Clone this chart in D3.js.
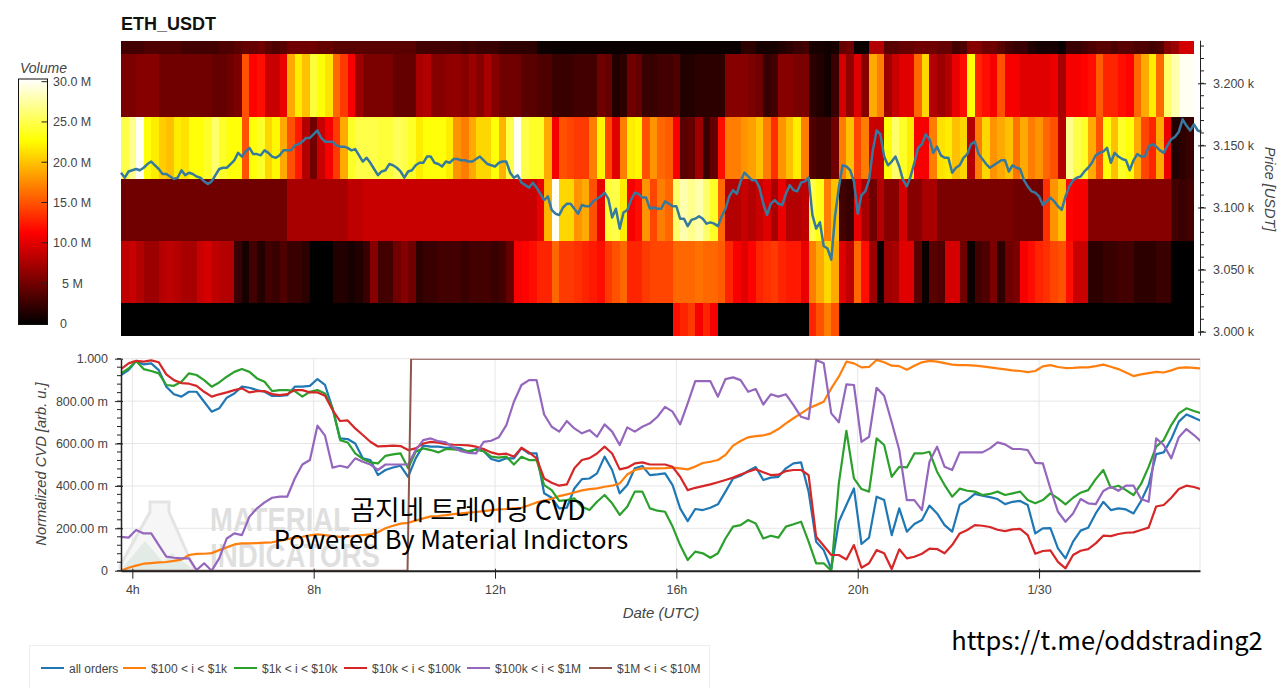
<!DOCTYPE html>
<html>
<head>
<meta charset="utf-8">
<title>ETH_USDT</title>
<script src="https://d3js.org/d3.v7.min.js"></script>
<style>
  body { margin: 0; background: #fff; }
  svg { display: block; }
  text { font-family: "Liberation Sans", Arial, sans-serif; }
  .tick text { fill: #444; font-size: 12.5px; font-family: "Liberation Sans", Arial, sans-serif; }
</style>
</head>
<body>
<svg id="chart" width="1280" height="688"></svg>
<script>
// Volumen por fila de precio (millones), una columna cada 10 minutos desde las 3:45
const vol3228 = [
  3,3,3,3.5,3.5,3.5,3.5,3.5,3,3,
  3,3,3,3.5,3.5,4,4.5,4.5,5,4,
  3.5,4,5,5,5,5,4.5,4.5,4,4,
  4,4,4,4,4,4,4,4,4,3,
  3,3,3,3,3,2.5,3,2.5,2.5,2.5,
  2,2,2,2,2,.6,.6,.5,.5,.5,
  .5,.5,.5,.5,.5,.5,.5,.5,.5,.5,
  .5,.5,.5,.5,.5,.5,.5,.5,.5,.5,
  .5,.5,2,2,1,1,1,1.5,2,2.5,
  3,1,1,.7,1,4.5,5,.5,.5,8,
  8,4,4,4.5,4.5,5,5,5,4.5,4.5,
  3,3.5,6,6,5,5,4,3,2.5,2.5,
  1.5,1,1,1,.5,2.5,2.5,3,3.5,4,
  4,3.5,4,4,3.5,3.5,3,3.5,6,7,9.5,9.5];
const vol3198 = [
  5.5,5.5,6,6,6,5,5,5,5,5,
  5,5,4.5,4.5,5,5.5,15,11.5,12,9,
  9,10.5,19,22,20,24.5,23,21.5,16,14,
  11,7,5.5,5.5,5.5,5.5,4.5,4.5,4.5,7.5,
  8,6,6,6.5,6.5,6,7,6,7.5,6,
  5,5,5,4,4,3.5,3.5,2.5,2.5,2.5,
  3,3,3,5,4.5,1.5,2,5,4.5,2.5,
  2.5,3,3,3.5,1.5,1.5,2,2,2,2,
  6,6,6,5.5,5,2.5,3,6,6,5.5,
  5.5,2,1.5,.8,2.5,9.5,6.5,10,6,19,
  17,7,9,10,10,16,21,8,7,8,
  10.5,12,23,13,12,11,15,11,11,10,
  10,10,10,10.5,7.5,11,11,11.5,12,15.5,
  13,13,12,11.5,16,19,22,16,26,28,30,30];
const vol3148 = [
  25,27,30,23,22,20.5,20,22,21.5,23,
  23,24,26,24,23,23,15,23,24,21,
  22.5,19,15,12.5,8,5,9,11,14,19,
  24,25,25,25,24.5,24.5,25.5,25,24,22,
  23,23,23,22,18,17,19,21,21,23,
  19.5,25,30,25,24,24,19,11,15,14.5,
  14,14,17,22.5,14.5,10,17,22,22.5,15,
  18,16,15.5,11,4,4.5,7,2.5,4.5,12,
  17,17,18,18.5,20,17,13.5,18,20,22,
  17,3.5,3,3,5,17,20,14.5,17,9,
  9,23,26,24,22,11,11,17,21.5,22,
  20,21,8,17,21,18,19,20,16.5,19,
  17,18,16,15,8,27,25,24,19,15,
  23,20,24,23,19,14.5,13,19,10.5,1.5,2,2.5];
const vol3098 = [
  5,5,5,5,5,5,5,5,5,5,
  5,5,5,5,5,5,5,5,5,5,
  5,5,7.5,7.5,7.5,7.5,7.5,7.5,7.5,7.5,
  8.5,8.5,9,9,9,9,9,9,9,9,
  9,9,9,9,9,9,9,9,9,9,
  9,9,9,9,9,10.5,19.5,30,21,21,
  18,19,15,10.5,24.5,25,22,11,12,18,
  14.5,17,16,26,28,27,28,26,24,16,
  8,8,9,8,9,10,7.5,10.5,8,8,
  8.5,25,23.5,17,20,3,2.5,10.5,7.5,5,
  8,6,6,9.5,6,6,7.5,7.5,5.5,5.5,
  5.5,5.5,5.5,5.5,5.5,5.5,5.5,5.5,5,5,
  5,5,13.5,18,20,11.5,11,11,6,6,
  6,6,6,6,6,6,6,6,6,3,2.5,3];
const vol3048 = [
  8.5,9,8,7,7,8,8.5,8,7.5,7.5,
  9,9.5,8.5,8,8,2.5,1,3,1.5,3,
  2.5,3.5,2.5,2.5,2,0,0,0,1.5,1.5,
  1,1.5,2.5,6,3,3,5,6,5,2,
  2.5,2.5,3,3,3,2.5,3,3,3,2.5,
  3,4.5,11,11.5,12,13,13,16,14,14,
  13.5,13,12.5,12,14,15,16,13,13,14,
  14.5,14.5,14.5,16,16,16,16.5,16,16,15.5,
  13,11,10,11.5,13,13.5,14,13,12.5,12.5,
  10.5,17,19,21,19,10,8.5,16,12,7,
  .3,7,7.5,10,10,4,.5,4,3.5,9.5,
  9.5,5,.5,3,3.5,5.5,2,5,5.5,11,
  12,13,13.5,14.5,15,12,9,9,2,2,
  2.5,2.5,3,3,2,2,2,2.5,2.5,0,0,0];
const vol3010 = [
  0,0,0,0,0,0,0,0,0,0,
  0,0,0,0,0,0,0,0,0,0,
  0,0,0,0,0,0,0,0,0,0,
  0,0,0,0,0,0,0,0,0,0,
  0,0,0,0,0,0,0,0,0,0,
  0,0,0,0,0,0,0,0,0,0,
  0,0,0,0,0,0,0,0,0,0,
  0,0,0,12,13,14,11,13,11,0,
  0,0,0,0,0,0,0,0,0,0,
  0,13,15,17,15,0,0,0,0,0,
  0,0,0,0,0,0,0,0,0,0,
  0,0,0,0,0,0,0,0,0,0,
  0,0,0,0,0,0,0,0,0,0,
  0,0,0,0,0,0,0,0,0,0,0,0];

const volumeRows = [vol3228, vol3198, vol3148, vol3098, vol3048, vol3010];
const priceEdges = [3234.3, 3223.2, 3173, 3123, 3073, 3023, 2996.8];

// Precio, un punto cada 5 minutos
const priceValues = [
  3128,3124,3129,3130,3131,3130,3132,3135,3137,3134,
  3131,3127,3127,3125,3123,3124,3130,3126,3128,3127,
  3125,3124,3121,3119,3121,3126,3131,3132,3132,3135,
  3138,3144,3141,3145,3148,3143,3143,3142,3146,3144,
  3141,3140,3142,3146,3146,3146,3150,3151,3153,3156,
  3156,3159,3162,3156,3153,3153,3153,3150,3149,3149,
  3148,3146,3147,3142,3137,3140,3136,3131,3126,3129,
  3130,3135,3134,3132,3129,3124,3129,3130,3134,3136,
  3136,3141,3141,3136,3135,3133,3137,3136,3139,3139,
  3138,3138,3137,3137,3139,3141,3138,3135,3134,3133,
  3136,3137,3137,3128,3124,3126,3120,3118,3116,3120,
  3116,3111,3106,3109,3098,3095,3094,3100,3103,3103,
  3099,3095,3102,3101,3101,3105,3107,3109,3112,3107,
  3092,3099,3083,3096,3098,3106,3112,3111,3108,3108,
  3099,3100,3099,3099,3105,3103,3101,3101,3091,3091,
  3085,3090,3091,3093,3091,3087,3088,3087,3085,3093,
  3099,3109,3114,3111,3121,3128,3125,3122,3122,3116,
  3103,3094,3103,3106,3103,3102,3111,3118,3114,3113,
  3120,3121,3124,3094,3083,3088,3069,3067,3058,3093,
  3116,3134,3133,3130,3121,3095,3110,3113,3122,3146,
  3162,3159,3141,3134,3137,3141,3133,3122,3117,3125,
  3136,3148,3151,3159,3155,3144,3149,3142,3140,3140,
  3128,3132,3134,3140,3143,3151,3153,3143,3139,3135,
  3132,3134,3136,3138,3138,3129,3134,3132,3131,3122,
  3117,3113,3112,3109,3102,3105,3108,3105,3101,3098,
  3109,3117,3122,3124,3125,3129,3132,3136,3142,3144,
  3145,3148,3136,3144,3141,3139,3138,3130,3138,3143,
  3141,3141,3149,3151,3149,3146,3144,3150,3155,3157,
  3161,3171,3166,3162,3167,3162,3161];

// CVD normalizado (en milésimas), un punto cada 10 minutos
const cvdAll = [
  923,946,989,973,978,946,868,832,821,844,
  844,797,750,766,816,836,868,863,852,844,
  824,825,828,868,868,872,904,876,766,624,
  621,600,530,522,451,475,487,495,443,530,
  590,585,585,580,582,577,558,574,564,527,
  517,530,530,577,553,553,365,344,294,297,
  388,432,435,459,538,475,365,404,483,494,
  451,454,459,404,294,234,291,286,297,313,
  373,435,448,470,489,428,439,443,483,506,
  511,373,137,97,8,231,310,388,126,156,
  349,333,168,294,184,220,239,307,270,215,
  184,311,333,362,354,347,338,314,325,329,
  310,176,200,201,105,58,137,189,203,270,
  325,286,294,289,270,329,404,550,558,621,
  703,737,722,706];
const cvd100to1k = [
  0,14,24,33,36,39,41,46,52,74,
  79,80,83,97,110,124,129,129,130,132,
  134,141,149,156,160,167,171,168,163,160,
  160,165,168,171,181,200,212,222,226,236,
  247,256,258,262,267,270,274,277,281,286,
  289,291,294,297,309,322,331,339,352,360,
  369,379,385,388,396,401,412,454,475,483,
  483,483,484,486,483,478,491,508,514,522,
  546,590,612,629,635,638,648,668,695,719,
  742,766,781,797,860,915,986,978,959,961,
  994,983,967,965,948,967,983,990,986,979,
  972,970,970,967,964,959,954,950,945,942,
  937,942,964,970,961,956,957,959,959,965,
  972,962,951,935,918,926,932,938,935,945,
  957,959,957,954];
const cvd1kto10k = [
  931,954,989,951,942,931,876,872,891,931,
  923,899,868,888,915,938,951,938,907,891,
  847,852,852,847,821,844,852,836,766,616,
  605,553,527,511,506,542,549,553,483,561,
  577,569,558,574,572,569,564,571,564,538,
  533,538,501,538,522,522,404,380,329,333,
  341,302,286,325,357,318,263,302,373,373,
  294,283,278,208,121,50,90,82,61,82,
  152,208,215,239,223,152,165,156,208,219,
  231,137,35,35,0,412,660,435,385,373,
  624,593,443,490,487,553,553,561,467,404,
  349,387,377,373,357,362,373,357,365,373,
  333,318,333,365,341,313,344,368,380,432,
  475,391,401,380,357,409,490,585,616,687,
  742,766,753,742];
const cvd10kto100k = [
  951,978,990,986,992,983,926,899,885,882,
  872,844,821,832,841,852,860,841,847,847,
  833,828,833,852,852,841,841,825,758,706,
  709,671,640,608,586,588,590,588,569,577,
  600,608,604,597,594,593,591,585,574,558,
  549,552,538,580,558,530,435,415,401,407,
  483,522,531,553,585,553,478,486,506,511,
  501,501,501,490,443,380,391,399,407,417,
  428,439,454,467,479,464,451,453,470,475,
  475,451,160,118,74,74,53,121,14,35,
  97,82,8,101,58,66,80,104,102,82,
  121,176,192,215,212,206,193,187,195,197,
  168,80,93,96,42,11,74,94,102,129,
  165,163,173,179,181,192,203,303,310,344,
  385,401,395,384];
const cvd100kto1m = [
  160,156,192,176,176,121,66,61,58,58,
  3,35,0,58,152,176,168,255,294,322,
  344,349,349,435,501,522,684,637,486,495,
  486,530,514,501,475,501,501,501,501,569,
  616,624,611,605,580,564,556,553,608,613,
  629,687,797,876,899,899,737,679,656,706,
  671,648,663,632,690,656,593,676,656,679,
  695,726,773,750,690,789,894,894,894,821,
  904,912,899,844,857,784,832,821,832,781,
  726,715,994,978,742,700,879,876,608,632,
  863,825,700,569,333,333,286,514,585,490,
  475,558,558,558,558,577,605,596,574,574,
  569,509,506,388,278,231,270,338,318,314,
  376,396,377,401,401,338,325,624,593,530,
  630,668,640,608];
// Esta serie solo salta una vez, asi que lleva sus propias horas
const cvd1mto10mHours = [3.75, 10.07, 10.15, 27.55];
const cvd1mto10m = [0, 0, 1000, 1000];

const seriesNames = ["all orders", "$100 < i < $1k", "$1k < i < $10k", "$10k < i < $100k", "$100k < i < $1M", "$1M < i < $10M"];
const seriesColors = ["#1f77b4", "#ff7f0e", "#2ca02c", "#d62728", "#9467bd", "#8c564b"];
const legendLineX = [41, 123, 234, 344, 467, 589];

const priceTicks = [3000, 3050, 3100, 3150, 3200];
const priceMinorTicks = [3000,3010,3020,3030,3040,3050,3060,3070,3080,3090,3100,3110,3120,3130,3140,3150,3160,3170,3180,3190,3200,3210,3220,3230];
const cvdTicks = [0, 200, 400, 600, 800, 1000];
const cvdTickLabels = ["0", "200.00 m", "400.00 m", "600.00 m", "800.00 m", "1.000"];
const cvdMinorTicks = [0,40,80,120,160,200,240,280,320,360,400,440,480,520,560,600,640,680,720,760,800,840,880,920,960,1000];
const hourTicks = [4, 8, 12, 16, 20, 24];
const hourTickLabels = ["4h", "8h", "12h", "16h", "20h", "1/30"];
const volumeTicks = [0, 5, 10, 15, 20, 25, 30];
const volumeTickLabels = ["0", "5 M", "10.0 M", "15.0 M", "20.0 M", "25.0 M", "30.0 M"];

const startHour = 3.75;
const plot = { left: 121, right: 1200, heatRight: 1193 };

const svg = d3.select("#chart");

const x = d3.scaleLinear().domain([startHour, 27.55]).range([plot.left, plot.right]);
const yPrice = d3.scaleLinear().domain([3000, 3200]).range([331.7, 83.3]);
const yCvd = d3.scaleLinear().domain([0, 1000]).range([570.7, 358.7]);
const yVolume = d3.scaleLinear().domain([0, 30]).range([323.3, 81.7]);

// Paleta tipo "hot": negro, rojo, amarillo, blanco
const heat = d3.scaleLinear()
  .domain([0, 11.4, 22.8, 30.4])
  .range(["#000000", "#ff0000", "#ffff00", "#ffffff"])
  .clamp(true);

// Titulo
svg.append("text")
  .attr("x", 121).attr("y", 30)
  .attr("font-size", 18).attr("font-weight", "bold").attr("fill", "#111")
  .text("ETH_USDT");

// Heatmap
volumeRows.forEach((row, r) => {
  svg.append("g")
    .attr("shape-rendering", "crispEdges")
    .selectAll("rect")
    .data(row)
    .enter()
    .append("rect")
    .attr("x", (d, i) => x(startHour + i / 6))
    .attr("width", (d, i) => x(startHour + (i + 1) / 6) - x(startHour + i / 6) + 0.4)
    .attr("y", yPrice(priceEdges[r]))
    .attr("height", yPrice(priceEdges[r + 1]) - yPrice(priceEdges[r]))
    .attr("fill", d => heat(d));
});

// Linea de precio
const priceLine = d3.line()
  .x((d, i) => x(startHour + i / 12))
  .y(d => yPrice(d));

svg.append("path")
  .datum(priceValues)
  .attr("d", priceLine)
  .attr("fill", "none")
  .attr("stroke", "#36799f")
  .attr("stroke-width", 2.5)
  .attr("stroke-linejoin", "round");

// Eje de precio
const priceAxis = svg.append("g")
  .attr("transform", `translate(${plot.right},0)`)
  .call(d3.axisRight(yPrice).tickValues(priceTicks).tickSizeOuter(0)
    .tickFormat(d => d3.format(".3f")(d / 1000) + " k").tickPadding(7));
priceAxis.select(".domain").attr("d", `M0.5,${yPrice(priceEdges[0])}V${yPrice(priceEdges[6])}`).attr("stroke", "#222");
priceAxis.selectAll(".tick line").attr("x1", -2).attr("stroke", "#222");

svg.append("g")
  .selectAll("line")
  .data(priceMinorTicks)
  .enter()
  .append("line")
  .attr("x1", plot.right).attr("x2", plot.right + 4)
  .attr("y1", d => yPrice(d)).attr("y2", d => yPrice(d))
  .attr("stroke", "#222");

svg.append("text")
  .attr("transform", "translate(1265,189) rotate(90)")
  .attr("text-anchor", "middle")
  .attr("font-size", 14.5).attr("font-style", "italic").attr("fill", "#444")
  .text("Price [USDT]");

// Barra de color
const defs = svg.append("defs");
const grad = defs.append("linearGradient")
  .attr("id", "volume-grad")
  .attr("x1", 0).attr("y1", 1).attr("x2", 0).attr("y2", 0);
heat.domain().forEach(v => {
  grad.append("stop")
    .attr("offset", v / 30.4)
    .attr("stop-color", heat(v));
});

svg.append("rect")
  .attr("x", 18.5).attr("y", 79).attr("width", 29).attr("height", 245.5)
  .attr("fill", "url(#volume-grad)")
  .attr("stroke", "#111").attr("stroke-width", 1);

svg.append("g")
  .selectAll("line")
  .data(volumeTicks.slice(1))
  .enter()
  .append("line")
  .attr("x1", 41.5).attr("x2", 47.5)
  .attr("y1", d => yVolume(d)).attr("y2", d => yVolume(d))
  .attr("stroke", "#222");

svg.append("g")
  .selectAll("text")
  .data(volumeTicks)
  .enter()
  .append("text")
  .attr("x", d => d === 0 ? 60 : d === 5 ? 62 : 53)
  .attr("y", d => yVolume(d) + 4.5)
  .attr("font-size", 12.5).attr("fill", "#444")
  .text((d, i) => volumeTickLabels[i]);

svg.append("text")
  .attr("x", 20).attr("y", 73)
  .attr("font-size", 14).attr("font-style", "italic").attr("fill", "#444")
  .text("Volume");

// Panel inferior: rejilla
const grid = svg.append("g").attr("stroke", "#e6e6e6").attr("stroke-width", 1);
grid.selectAll(".gy")
  .data(cvdTicks)
  .enter()
  .append("line")
  .attr("x1", plot.left).attr("x2", plot.right)
  .attr("y1", d => yCvd(d)).attr("y2", d => yCvd(d));
grid.selectAll(".gx")
  .data(hourTicks.concat([27.55]))
  .enter()
  .append("line")
  .attr("x1", d => x(d)).attr("x2", d => x(d))
  .attr("y1", yCvd(1000)).attr("y2", yCvd(0));

// Marca de agua
const mark = svg.append("g");
mark.append("path")
  .attr("d", "M150,502 H169 V512 L193,566 V570.5 H120 V566 L150,512 Z")
  .attr("fill", "#f6f6f6").attr("stroke", "#e4e4e4").attr("stroke-width", 3);
mark.append("path")
  .attr("d", "M124,566 L145,541 L163,562 L172,553 L190,567 V570 H122 Z")
  .attr("fill", "#e3ebe6");
mark.append("text")
  .attr("x", 210).attr("y", 531)
  .attr("font-size", 34).attr("font-weight", "bold").attr("fill", "#dfdfdf")
  .attr("textLength", 140).attr("lengthAdjust", "spacingAndGlyphs")
  .text("MATERIAL");
mark.append("text")
  .attr("x", 210).attr("y", 567)
  .attr("font-size", 34).attr("font-weight", "bold").attr("fill", "#dfdfdf")
  .attr("textLength", 170).attr("lengthAdjust", "spacingAndGlyphs")
  .text("INDICATORS");

// Series CVD, recortadas al area del panel
defs.append("clipPath")
  .attr("id", "cvd-clip")
  .append("rect")
  .attr("x", plot.left).attr("y", yCvd(1000))
  .attr("width", plot.right - plot.left).attr("height", yCvd(0) - yCvd(1000));

const cvdLine = d3.line()
  .x((d, i) => x(startHour + i / 6))
  .y(d => yCvd(d));

[cvdAll, cvd100to1k, cvd1kto10k, cvd10kto100k, cvd100kto1m].forEach((s, k) => {
  svg.append("path")
    .datum(s)
    .attr("d", cvdLine)
    .attr("fill", "none")
    .attr("clip-path", "url(#cvd-clip)")
    .attr("stroke", seriesColors[k])
    .attr("stroke-width", 2.2)
    .attr("stroke-linejoin", "round");
});

svg.append("path")
  .datum(cvd1mto10m)
  .attr("d", d3.line().x((d, i) => x(cvd1mto10mHours[i])).y(d => yCvd(d)))
  .attr("fill", "none")
  .attr("clip-path", "url(#cvd-clip)")
  .attr("stroke", seriesColors[5])
  .attr("stroke-width", 2);

// Ejes del panel inferior
const cvdAxis = svg.append("g")
  .attr("transform", `translate(${plot.left},0)`)
  .call(d3.axisLeft(yCvd).tickValues(cvdTicks).tickSizeOuter(0).tickPadding(7)
    .tickFormat((d, i) => cvdTickLabels[i]));
cvdAxis.select(".domain").attr("stroke", "#222").attr("stroke-width", 1.5);
cvdAxis.selectAll(".tick line").attr("x2", -6).attr("x1", 2).attr("stroke", "#222");

svg.append("g")
  .selectAll("line")
  .data(cvdMinorTicks)
  .enter()
  .append("line")
  .attr("x1", plot.left - 4).attr("x2", plot.left)
  .attr("y1", d => yCvd(d)).attr("y2", d => yCvd(d))
  .attr("stroke", "#222");

svg.append("text")
  .attr("transform", "translate(46,464) rotate(-90)")
  .attr("text-anchor", "middle")
  .attr("font-size", 14.7).attr("font-style", "italic").attr("fill", "#444")
  .text("Normalized CVD [arb. u.]");

const dateAxis = svg.append("g")
  .attr("transform", `translate(0,${yCvd(0)})`)
  .call(d3.axisBottom(x).tickValues(hourTicks).tickSizeOuter(0).tickPadding(8)
    .tickFormat((d, i) => hourTickLabels[i]));
dateAxis.select(".domain").attr("stroke", "#222").attr("stroke-width", 2);
dateAxis.selectAll(".tick line").attr("y1", -2).attr("y2", 8).attr("stroke", "#222");

svg.append("text")
  .attr("x", 661).attr("y", 618)
  .attr("text-anchor", "middle")
  .attr("font-size", 15).attr("font-style", "italic").attr("fill", "#444")
  .text("Date (UTC)");

// Leyenda
svg.append("rect")
  .attr("x", 29.5).attr("y", 645.5).attr("width", 680).attr("height", 60)
  .attr("fill", "#fff").attr("stroke", "#eeeeee");

const legend = svg.append("g")
  .selectAll("g")
  .data(seriesNames)
  .enter()
  .append("g")
  .attr("transform", (d, i) => `translate(${legendLineX[i]},668)`);
legend.append("line")
  .attr("x1", 0).attr("x2", 23)
  .attr("stroke", (d, i) => seriesColors[i])
  .attr("stroke-width", 2);
legend.append("text")
  .attr("x", 28).attr("y", 4.5)
  .attr("font-size", 12).attr("fill", "#444")
  .text(d => d);

// Textos superpuestos
const overlay = "'Noto Sans CJK KR', 'Noto Sans', sans-serif";
svg.append("text")
  .attr("x", 468).attr("y", 520)
  .attr("text-anchor", "middle")
  .style("font-family", overlay).attr("font-size", 26.8).attr("fill", "#000")
  .text("곰지네 트레이딩 CVD");
svg.append("text")
  .attr("x", 451).attr("y", 549)
  .attr("text-anchor", "middle")
  .style("font-family", overlay).attr("font-size", 25.6).attr("fill", "#000")
  .text("Powered By Material Indictors");
svg.append("text")
  .attr("x", 1107).attr("y", 650)
  .attr("text-anchor", "middle")
  .style("font-family", overlay).attr("font-size", 25.5).attr("fill", "#000")
  .text("https://t.me/oddstrading2");
</script>
</body>
</html>
